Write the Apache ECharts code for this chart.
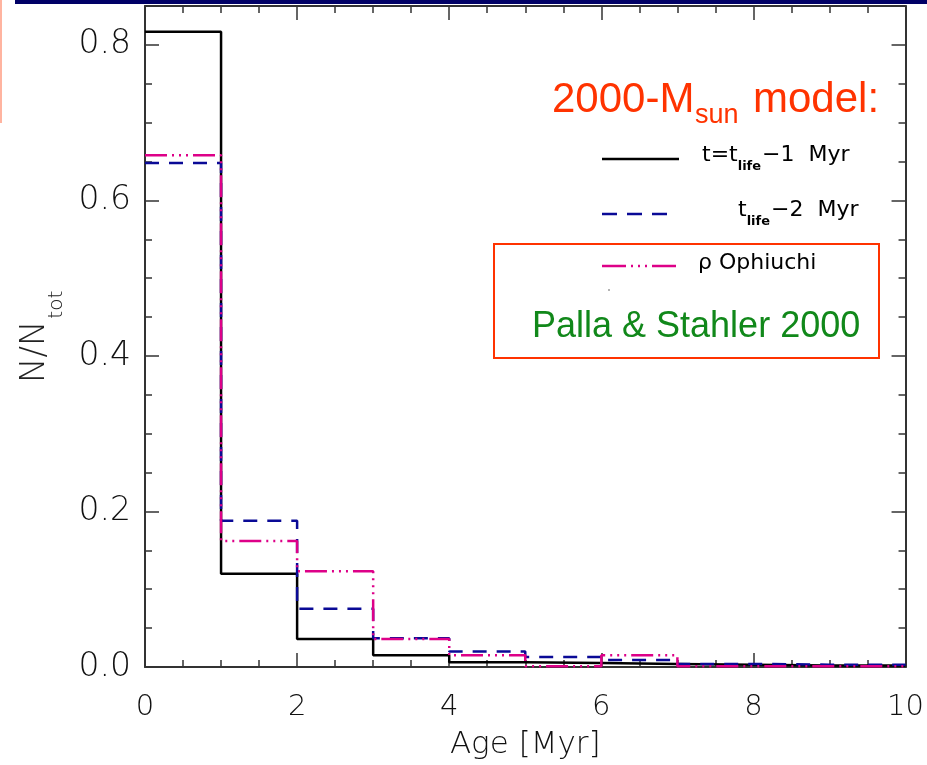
<!DOCTYPE html>
<html>
<head>
<meta charset="utf-8">
<style>html,body{margin:0;padding:0;background:#fff;}#chart{width:927px;height:765px;}</style>
<script src="https://cdn.jsdelivr.net/npm/echarts@6/dist/echarts.min.js"></script>
</head>
<body>
<div id="chart"></div>
<script>
// ---- data (histogram, 1 Myr bins) ----
const binEdges = [0, 1, 2, 3, 4, 5, 6, 7, 8, 9, 10];
const tLife1 = [0.817, 0.120, 0.036, 0.015, 0.006, 0.005, 0.004, 0.003, 0.002, 0.002];
const tLife2 = [0.648, 0.188, 0.075, 0.037, 0.020, 0.013, 0.009, 0.004, 0.003, 0.003];
const rhoOph = [0.658, 0.162, 0.123, 0.036, 0.015, 0.001, 0.015, 0.001, 0.001, 0.001];
const xTicks = [0, 2, 4, 6, 8, 10];
const yTicks = [0.0, 0.2, 0.4, 0.6, 0.8];

const BLACK = '#000000', BLUE = '#0a0a96', MAG = '#dd0088';
const AX = '#333333';
const FONT = "'DejaVu Sans'";
const ARIAL = "'Liberation Sans'";
const THIN = 200;

function stepData(vals) {
  const d = vals.map((v, i) => [binEdges[i], v]);
  d.push([binEdges[binEdges.length - 1], vals[vals.length - 1]]);
  return d;
}

const mctx = document.createElement('canvas').getContext('2d');
function tw(text, size, fam, w) { mctx.font = (w || 'normal') + ' ' + size + 'px ' + fam; return mctx.measureText(text).width; }
function piece(text, x, baseline, size, fam, color, w) {
  return {
    type: 'text', x: x, y: baseline - 0.3 * size, z: 100,
    style: { text: text, font: (w || 'normal') + ' ' + size + 'px ' + fam, fill: color,
             align: 'left', textAlign: 'left', verticalAlign: 'middle', textVerticalAlign: 'middle' }
  };
}
// sequence of pieces: [text, size, baselineOffset, gapBefore, weight]
function run(x, baseline, fam, color, parts) {
  const out = [];
  let cx = x;
  parts.forEach(p => {
    cx += (p[3] || 0);
    out.push(piece(p[0], cx, baseline + (p[2] || 0), p[1], fam, color, p[4]));
    cx += tw(p[0], p[1], fam, p[4]);
  });
  return out;
}

const graphics = [];
// top navy bar and left salmon strip
graphics.push({ type: 'rect', shape: { x: 15, y: 0, width: 912, height: 4 }, style: { fill: '#000066' }, z: 100 });
graphics.push({ type: 'rect', shape: { x: 0, y: 0, width: 2, height: 123 }, style: { fill: '#ffb4a0' }, z: 100 });

// title "2000-Msun model:"
graphics.push(piece('2000-M', 552, 113, 42, ARIAL, '#ff3300'));
graphics.push(piece('sun', 695, 124, 27, ARIAL, '#ff3300'));
graphics.push(piece('model:', 753, 113, 42, ARIAL, '#ff3300'));

// legend lines
graphics.push({ type: 'line', shape: { x1: 602, y1: 159, x2: 679, y2: 159 }, style: { stroke: BLACK, lineWidth: 2.5 }, z: 100 });
graphics.push({ type: 'line', shape: { x1: 602, y1: 214, x2: 669, y2: 214 }, style: { stroke: BLUE, lineWidth: 2.5, lineDash: [15, 10] }, z: 100 });
graphics.push({ type: 'line', shape: { x1: 602, y1: 266, x2: 679, y2: 266 }, style: { stroke: MAG, lineWidth: 2.5, lineDash: [24, 5, 2, 5, 2, 5, 2, 5] }, z: 100 });
// legend texts
run(702, 162, FONT, '#000', [['t=t', 22], ['life', 13, 9, 0, 'bold'], ['\u22121  Myr', 22, 0, 1]]).forEach(g => graphics.push(g));
run(738, 217, FONT, '#000', [['t', 22], ['life', 13, 9, 0, 'bold'], ['\u22122  Myr', 22, 0, 1]]).forEach(g => graphics.push(g));
graphics.push(piece('\u03c1 Ophiuchi', 698, 270, 22, FONT, '#000'));
graphics.push({ type: 'circle', shape: { cx: 609, cy: 290, r: 0.8 }, style: { fill: '#555' }, z: 100 });

// red box and green text
graphics.push({ type: 'rect', shape: { x: 494, y: 244, width: 385, height: 114 }, style: { fill: null, stroke: '#ff3300', lineWidth: 2 }, z: 100 });
graphics.push(piece('Palla & Stahler 2000', 532, 338, 36, ARIAL, '#11881a'));

// y axis title N/N_tot (rotated)
const yTitleChildren = [];
yTitleChildren.push(piece('N/N', 0, 0, 34, FONT, '#222', THIN));
yTitleChildren.push(piece('tot', tw('N/N', 34, FONT, THIN) + 2, 18, 20, FONT, '#222', THIN));
graphics.push({ type: 'group', x: 45, y: 383, rotation: Math.PI / 2, children: yTitleChildren, z: 100 });

const axisCommon = {
  axisLine: { show: true, onZero: false, lineStyle: { color: AX, width: 2 } },
  axisTick: { show: true, inside: true, length: 14, lineStyle: { color: AX, width: 1.5 } },
  minorTick: { show: true, splitNumber: 4, length: 7, lineStyle: { color: AX, width: 1.5 } },
  splitLine: { show: false },
  minorSplitLine: { show: false }
};

const option = {
  animation: false,
  backgroundColor: '#ffffff',
  grid: { left: 145, right: 19, top: 6, bottom: 98, containLabel: false },
  xAxis: [
    Object.assign({
      type: 'value', min: xTicks[0], max: xTicks[xTicks.length - 1], interval: 2, position: 'bottom',
      axisLabel: { show: true, margin: 26, fontSize: 29, fontFamily: FONT, fontWeight: THIN, color: '#111',
                   formatter: v => String(v) },
      name: 'Age [Myr]', nameLocation: 'middle', nameGap: 62,
      nameTextStyle: { fontSize: 31, fontFamily: FONT, fontWeight: THIN, color: '#111' }
    }, axisCommon),
    Object.assign({
      type: 'value', min: 0, max: 10, interval: 2, position: 'top',
      axisLabel: { show: false }
    }, axisCommon)
  ],
  yAxis: [
    Object.assign({
      type: 'value', min: yTicks[0], max: 0.85, interval: 0.2, position: 'left',
      axisLabel: { show: true, margin: 14, fontSize: 33, fontFamily: FONT, fontWeight: THIN, color: '#111',
                   padding: [6, 0, 0, 0], formatter: v => v.toFixed(1), showMaxLabel: false }
    }, axisCommon),
    Object.assign({
      type: 'value', min: 0, max: 0.85, interval: 0.2, position: 'right',
      axisLabel: { show: false }
    }, axisCommon)
  ],
  series: [
    { type: 'line', name: 't=t_life-1 Myr', step: 'end', symbol: 'none', data: stepData(tLife1),
      lineStyle: { color: BLACK, width: 2.5 }, z: 3 },
    { type: 'line', name: 't_life-2 Myr', step: 'end', symbol: 'none', data: stepData(tLife2),
      lineStyle: { color: BLUE, width: 2.5, type: [14, 10] }, z: 4 },
    { type: 'line', name: 'rho Ophiuchi', step: 'end', symbol: 'none', data: stepData(rhoOph),
      lineStyle: { color: MAG, width: 2.5, type: [22, 5, 2, 5, 2, 5, 2, 5] }, z: 5 }
  ],
  graphic: { elements: graphics }
};

const chart = echarts.init(document.getElementById('chart'), null, { renderer: 'canvas' });
chart.setOption(option);
</script>
</body>
</html>
